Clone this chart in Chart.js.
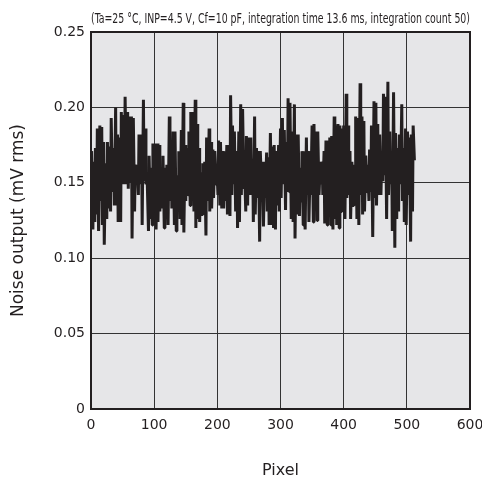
<!DOCTYPE html>
<html>
<head>
<meta charset="utf-8">
<script src="https://cdn.jsdelivr.net/npm/chart.js@4.4.1/dist/chart.umd.min.js"></script>
<style>
  html, body { margin: 0; padding: 0; background: #ffffff; }
  #wrap { width: 482px; height: 480px; }
</style>
</head>
<body>
<div id="wrap"><canvas id="c" width="482" height="480"></canvas></div>
<script>
// Measurement conditions shown above the plot
const conditionText = '(Ta=25 \u00B0C, INP=4.5 V, Cf=10 pF, integration time 13.6 ms, integration count 50)';

// Sensor pixel range (1 .. 512)
const firstPixel = 1;
const lastPixel = 512;

// Noise output per pixel (mV rms), sampled along the sensor
const noise = [
  0.171,0.119, 0.164,0.124, 0.173,0.129, 0.186,0.118, 0.188,0.138,
  0.187,0.122, 0.177,0.109, 0.163,0.126, 0.177,0.133, 0.174,0.131,
  0.193,0.144, 0.173,0.135, 0.200,0.135, 0.182,0.124, 0.180,0.124,
  0.197,0.149, 0.195,0.149, 0.207,0.149, 0.197,0.146, 0.194,0.150,
  0.194,0.113, 0.193,0.131, 0.162,0.149, 0.162,0.142, 0.182,0.149,

  0.182,0.122, 0.205,0.151, 0.186,0.149, 0.151,0.118, 0.168,0.126,
  0.160,0.122, 0.176,0.135, 0.176,0.119, 0.176,0.124, 0.175,0.131,
  0.160,0.133, 0.168,0.120, 0.160,0.131, 0.162,0.122, 0.194,0.138,
  0.175,0.133, 0.184,0.122, 0.184,0.118, 0.155,0.149, 0.171,0.126,
  0.185,0.122, 0.203,0.117, 0.175,0.138, 0.173,0.142, 0.184,0.135,
  0.197,0.140,

  0.197,0.131, 0.205,0.120, 0.189,0.126, 0.173,0.124, 0.157,0.129,
  0.163,0.138, 0.164,0.115, 0.180,0.138, 0.186,0.131, 0.177,0.133,
  0.172,0.140, 0.171,0.149, 0.162,0.142, 0.178,0.135, 0.177,0.133,
  0.171,0.133, 0.162,0.138, 0.175,0.129, 0.175,0.128, 0.208,0.142,
  0.188,0.149, 0.184,0.131, 0.171,0.120, 0.184,0.124, 0.202,0.142,
  0.199,0.146, 0.160,0.131, 0.181,0.135, 0.180,0.142,

  0.180,0.142, 0.166,0.124, 0.194,0.129, 0.173,0.140, 0.171,0.111,
  0.171,0.149, 0.164,0.121, 0.164,0.140, 0.170,0.131, 0.167,0.122,
  0.183,0.122, 0.174,0.120, 0.175,0.119, 0.171,0.135, 0.175,0.131,
  0.186,0.140, 0.193,0.149, 0.185,0.132, 0.177,0.144, 0.206,0.144,
  0.203,0.126, 0.184,0.124, 0.202,0.113, 0.182,0.129, 0.182,0.128,
  0.160,0.138, 0.171,0.122, 0.171,0.119,

  0.180,0.142, 0.171,0.124, 0.162,0.142, 0.188,0.124, 0.189,0.135,
  0.184,0.125, 0.184,0.142, 0.164,0.149, 0.164,0.142, 0.171,0.123,
  0.178,0.122, 0.178,0.142, 0.180,0.122, 0.181,0.119, 0.194,0.126,
  0.188,0.122, 0.189,0.120, 0.188,0.131, 0.186,0.149, 0.188,0.126,
  0.209,0.140, 0.188,0.142, 0.171,0.126, 0.164,0.135, 0.162,0.149,
  0.194,0.126, 0.193,0.122, 0.216,0.142,

  0.194,0.129, 0.191,0.131, 0.168,0.144, 0.162,0.138, 0.172,0.144,
  0.188,0.114, 0.204,0.140, 0.203,0.135, 0.189,0.142, 0.182,0.142,
  0.160,0.151, 0.209,0.155, 0.207,0.126, 0.217,0.142, 0.184,0.149,
  0.171,0.118, 0.210,0.107, 0.183,0.126, 0.173,0.131, 0.182,0.149,
  0.202,0.138, 0.173,0.124, 0.186,0.122, 0.184,0.142, 0.180,0.111,
  0.182,0.131, 0.188,0.165
];

// Axis ranges and tick steps
const xMin = 0, xMax = 600, xStep = 100;
const yMin = 0, yMax = 0.25, yStep = 0.05;

// Pair each sample with the pixel it was taken at
const span = lastPixel - firstPixel;
const points = noise.map((v, i) => ({
  x: Math.round(firstPixel + i * span / (noise.length - 1)),
  y: v
}));

const FONT = "'DejaVu Sans', Verdana, sans-serif";

// Plot area background, frame and the conditions line
const framePlugin = {
  id: 'frame',
  beforeDraw(chart) {
    const { ctx, chartArea: a } = chart;
    ctx.save();
    ctx.fillStyle = '#e6e6e8';
    ctx.fillRect(a.left, a.top, a.right - a.left, a.bottom - a.top);
    ctx.restore();
  },
  afterDatasetsDraw(chart) {
    const { ctx, chartArea: a } = chart;
    ctx.save();
    ctx.strokeStyle = '#231f20';
    ctx.lineWidth = 2;
    ctx.strokeRect(a.left, a.top, a.right - a.left, a.bottom - a.top);
    ctx.restore();
  },
  afterDraw(chart) {
    const { ctx, chartArea: a } = chart;
    ctx.save();
    ctx.fillStyle = '#231f20';
    ctx.font = "14px 'DejaVu Sans Condensed', 'DejaVu Sans', sans-serif";
    ctx.textBaseline = 'alphabetic';
    const w = ctx.measureText(conditionText).width;
    const target = a.right - a.left;
    ctx.translate(a.left, a.top - 9);
    ctx.scale(target / w, 1);
    ctx.fillText(conditionText, 0, 0);
    ctx.restore();
  }
};

new Chart(document.getElementById('c'), {
  type: 'line',
  data: {
    datasets: [{
      data: points,
      borderColor: '#231f20',
      borderWidth: 3,
      borderJoinStyle: 'bevel',
      pointRadius: 0,
      tension: 0,
      fill: false
    }]
  },
  options: {
    responsive: false,
    animation: false,
    devicePixelRatio: 1,
    layout: { padding: { top: 32, right: 12, left: 0, bottom: 0 } },
    plugins: { legend: { display: false }, tooltip: { enabled: false }, title: { display: false } },
    scales: {
      x: {
        type: 'linear',
        min: xMin, max: xMax,
        ticks: {
          stepSize: xStep,
          color: '#231f20',
          font: { family: FONT, size: 14 },
          padding: 8,
          maxRotation: 0
        },
        grid: { color: '#333333', lineWidth: 1, drawTicks: false },
        border: { display: false },
        title: {
          display: true,
          text: 'Pixel',
          color: '#231f20',
          font: { family: FONT, size: 16 },
          padding: { top: 22, bottom: 0 }
        },
        afterFit(scale) {
          scale.height = 71;
          scale.paddingRight = 0;
          scale.paddingLeft = 0;
        }
      },
      y: {
        min: yMin, max: yMax,
        ticks: {
          stepSize: yStep,
          color: '#231f20',
          font: { family: FONT, size: 14 },
          padding: 6,
          callback: v => (Math.abs(v) < 1e-9 ? '0' : Number(v).toFixed(2))
        },
        grid: { color: '#333333', lineWidth: 1, drawTicks: false },
        border: { display: false },
        title: {
          display: true,
          text: 'Noise output (mV rms)',
          color: '#231f20',
          font: { family: FONT, size: 17 },
          padding: { top: 8, bottom: 10 }
        },
        afterFit(scale) {
          scale.width = 91;
          scale.paddingTop = 0;
          scale.paddingBottom = 0;
        }
      }
    }
  },
  plugins: [framePlugin]
});
</script>
</body>
</html>
